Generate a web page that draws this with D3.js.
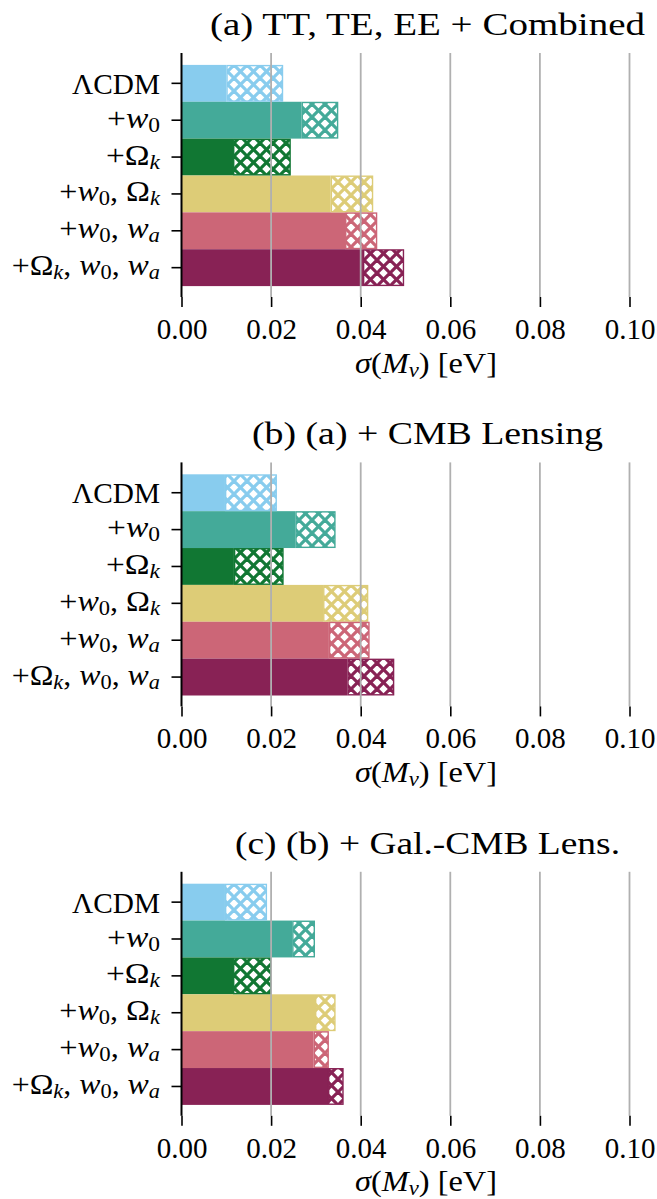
<!DOCTYPE html>
<html>
<head>
<meta charset="utf-8">
<script src="https://cdn.jsdelivr.net/npm/d3@7"></script>
<style>
  html, body { margin: 0; padding: 0; background: #fff; }
  svg { display: block; }
  svg text { font-family: "Liberation Serif", "Tinos", "Times New Roman", "DejaVu Serif", "Noto Serif", serif; fill: #000; }
</style>
</head>
<body>
<div id="chart"></div>
<script>
// Model extensions (y categories), written with "_" marking a subscript
const categories = ["ΛCDM", "+w_0", "+Ω_k", "+w_0, Ω_k", "+w_0, w_a", "+Ω_k, w_0, w_a"];
const barColors = ["#88CCEE", "#44AA99", "#117733", "#DDCC77", "#CC6677", "#882255"];

const panelTitles = [
  "(a) TT, TE, EE + Combined",
  "(b) (a) + CMB Lensing",
  "(c) (b) + Gal.-CMB Lens."
];

// σ(Mν) in eV: solid part and hatched total, per panel
const sigmaSolidA = [0.0100, 0.0268, 0.0115, 0.0333, 0.0365, 0.0405];
const sigmaTotalA = [0.0227, 0.0350, 0.0244, 0.0428, 0.0437, 0.0497];
const sigmaSolidB = [0.0097, 0.0254, 0.0117, 0.0316, 0.0329, 0.0370];
const sigmaTotalB = [0.0213, 0.0344, 0.0228, 0.0417, 0.0420, 0.0475];
const sigmaSolidC = [0.0097, 0.0247, 0.0115, 0.0298, 0.0295, 0.0327];
const sigmaTotalC = [0.0191, 0.0298, 0.0201, 0.0344, 0.0329, 0.0362];

const xTicks = [0.00, 0.02, 0.04, 0.06, 0.08, 0.10];

const panels = [
  { title: panelTitles[0], solid: sigmaSolidA, total: sigmaTotalA },
  { title: panelTitles[1], solid: sigmaSolidB, total: sigmaTotalB },
  { title: panelTitles[2], solid: sigmaSolidC, total: sigmaTotalC }
];

// ---- layout ----
const W = 657, H = 1199;
const panelStep = 409.4;
const axTop0 = 53, axBottom0 = 297;
const bandTop0 = 64.9, bandBottom0 = 286.1;
const titleX = 427.5;
const titleWidths = [435, 351, 385];
const labelWidths = [88, 53, 54, 100.7, 100.7, 148.3];
const xLabelWidth = 142;
const fs = 29, titleFs = 32;
const serif = '"Liberation Serif", "Tinos", "Times New Roman", "DejaVu Serif", "Noto Serif", serif';

const svg = d3.select("#chart").append("svg")
  .attr("width", W).attr("height", H);

const x = d3.scaleLinear().domain([0, 0.10]).range([181.5, 629.5]);

// cross-hatch patterns, one per colour
const defs = svg.append("defs");
barColors.forEach((c, i) => {
  const p = defs.append("pattern")
    .attr("id", "hatch" + i)
    .attr("patternUnits", "userSpaceOnUse")
    .attr("width", 13).attr("height", 13);
  p.append("rect").attr("width", 13).attr("height", 13).attr("fill", "#fff");
  const lines = [[-1, -1, 14, 14], [-1, 14, 14, -1],
                 [-7.5, 5.5, 5.5, -7.5], [7.5, 20.5, 20.5, 7.5],
                 [-7.5, 7.5, 5.5, 20.5], [7.5, -7.5, 20.5, 5.5]];
  lines.forEach(l => p.append("line")
    .attr("x1", l[0]).attr("y1", l[1]).attr("x2", l[2]).attr("y2", l[3])
    .attr("stroke", c).attr("stroke-width", 3.2));
});

// write a label as tspans: "_" marks a subscript, italic chars by test
function mathText(sel, str, isItalic) {
  const segs = [];
  for (let i = 0; i < str.length; i++) {
    let ch = str[i], sub = false;
    if (ch === "_") { sub = true; ch = str[++i]; }
    segs.push({ ch, sub, italic: isItalic(ch, i) });
  }
  let prevSub = false;
  segs.forEach(s => {
    const t = sel.append("tspan").text(s.ch)
      .attr("font-style", s.italic ? "italic" : "normal");
    if (s.sub) t.attr("font-size", "0.7em");
    let dy = 0;
    if (s.sub && !prevSub) dy = 4;
    if (!s.sub && prevSub) dy = -4;
    if (dy) t.attr("dy", dy);
    prevSub = s.sub;
  });
  return sel;
}
const italicLower = ch => /[a-z]/.test(ch);

panels.forEach((panel, pi) => {
  const off = pi * panelStep;
  const axTop = axTop0 + off, axBottom = axBottom0 + off;
  const g = svg.append("g");

  const y = d3.scaleBand().domain(categories)
    .range([bandTop0 + off, bandBottom0 + off]).padding(0);

  // solid bars
  g.selectAll("rect.solid").data(categories).join("rect")
    .attr("class", "solid")
    .attr("x", x(0))
    .attr("y", d => y(d))
    .attr("width", (d, i) => x(panel.solid[i]) - x(0))
    .attr("height", y.bandwidth())
    .attr("fill", (d, i) => barColors[i]);

  // hatched extension up to the total
  g.selectAll("rect.hatched").data(categories).join("rect")
    .attr("class", "hatched")
    .attr("x", (d, i) => x(panel.solid[i]) + 0.7)
    .attr("y", d => y(d) + 0.7)
    .attr("width", (d, i) => x(panel.total[i]) - x(panel.solid[i]) - 1.4)
    .attr("height", y.bandwidth() - 1.4)
    .attr("fill", (d, i) => `url(#hatch${i})`)
    .attr("stroke", (d, i) => barColors[i])
    .attr("stroke-width", 1.4);

  // vertical grid lines above the bars
  g.selectAll("line.grid").data(xTicks.slice(1)).join("line")
    .attr("class", "grid")
    .attr("x1", d => x(d)).attr("x2", d => x(d))
    .attr("y1", axTop).attr("y2", axBottom)
    .attr("stroke", "#b0b0b0").attr("stroke-width", 1.8);

  // x axis: ticks and labels, no spine line
  const xAxis = d3.axisBottom(x).tickValues(xTicks)
    .tickFormat(d3.format(".2f")).tickSize(10).tickPadding(0);
  const xa = g.append("g").attr("transform", `translate(0,${axBottom})`).call(xAxis)
    .attr("font-family", null).attr("font-size", null);
  xa.select(".domain").remove();
  xa.selectAll(".tick line").attr("stroke", "#000").attr("stroke-width", 1.6);
  xa.selectAll(".tick text")
    .attr("y", 42).attr("dy", null)
    .style("font-family", serif)
    .style("font-size", fs + "px");

  // y axis ticks with custom labels
  const yAxis = d3.axisLeft(y).tickSize(10).tickFormat("");
  const ya = g.append("g").attr("transform", `translate(${x(0)},0)`).call(yAxis);
  ya.select(".domain").remove();
  ya.selectAll(".tick line").attr("stroke", "#000").attr("stroke-width", 1.6);

  categories.forEach((c, i) => {
    const yc = y(c) + y.bandwidth() / 2;
    const t = g.append("text")
      .attr("x", 160)
      .attr("y", yc + (c.includes("_") ? 7.5 : 10.7))
      .attr("text-anchor", "end")
      .style("font-family", serif)
      .attr("font-size", fs)
      .attr("textLength", labelWidths[i])
      .attr("lengthAdjust", "spacingAndGlyphs");
    mathText(t, c, italicLower);
  });

  // left spine
  g.append("line")
    .attr("x1", x(0)).attr("x2", x(0))
    .attr("y1", axTop).attr("y2", axBottom)
    .attr("stroke", "#000").attr("stroke-width", 2);

  // x axis label: σ(M_ν) in math italic, unit upright
  const xl = g.append("text")
    .attr("x", 426).attr("y", axBottom + 75.5)
    .attr("text-anchor", "middle")
    .style("font-family", serif)
    .attr("font-size", fs)
    .attr("textLength", xLabelWidth)
    .attr("lengthAdjust", "spacingAndGlyphs");
  mathText(xl, "σ(M_ν) [eV]", (ch, i) => i < 5 && /[σMν]/.test(ch));

  // panel title
  g.append("text")
    .attr("x", titleX).attr("y", axTop - 18)
    .attr("text-anchor", "middle")
    .style("font-family", serif)
    .attr("font-size", titleFs)
    .attr("textLength", titleWidths[pi])
    .attr("lengthAdjust", "spacingAndGlyphs")
    .text(panel.title);
});
</script>
</body>
</html>
